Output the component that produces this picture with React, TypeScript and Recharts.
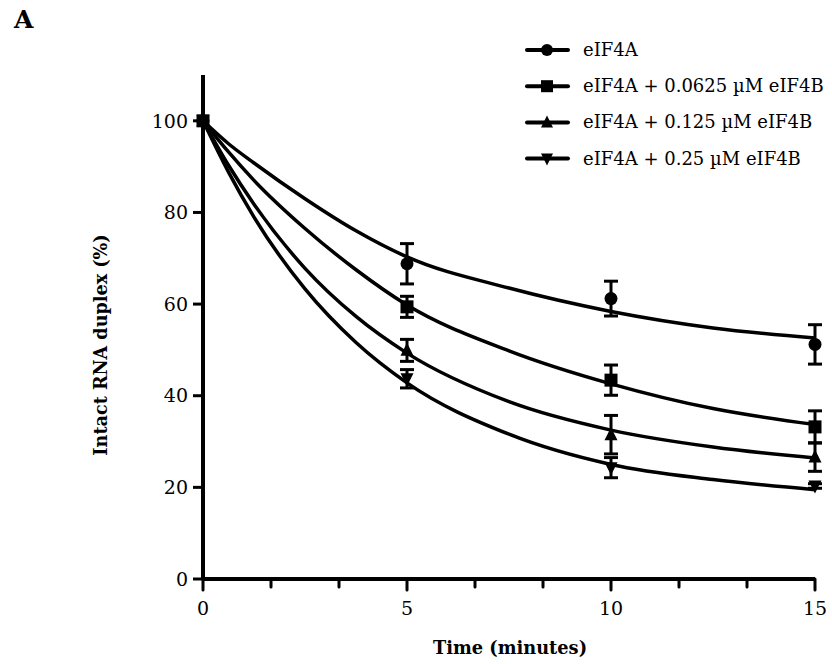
import React from "react";
import { ComposedChart, Line, Scatter, XAxis, YAxis, ErrorBar, Legend } from "recharts";

const seriesNames = [
  "eIF4A",
  "eIF4A + 0.0625 \u00b5M eIF4B",
  "eIF4A + 0.125 \u00b5M eIF4B",
  "eIF4A + 0.25 \u00b5M eIF4B",
];
const seriesShapes = ["circle", "square", "triangle", "invtriangle"];

// measured points (time, mean, error)
const pointTimes = [0, 5, 10, 15];
const ptsA = [100, 68.8, 61.2, 51.2];
const errA = [0, 4.4, 3.8, 4.3];
const ptsB = [100, 59.4, 43.4, 33.2];
const errB = [0, 2.3, 3.3, 3.5];
const ptsC = [100, 49.9, 31.5, 26.6];
const errC = [0, 2.4, 4.2, 3.1];
const ptsD = [100, 43.7, 24.3, 20.3];
const errD = [0, 2.0, 2.2, 0.5];

// fitted curves
const curveTimes = [0, 0.625, 1.25, 2.5, 3.75, 5, 7.5, 10, 12.5, 15];
const curveA = [100, 95.0, 90.8, 83.0, 76.0, 70.3, 63.5, 58.4, 54.8, 52.6];
const curveB = [100, 93.2, 87.0, 76.5, 67.5, 59.8, 49.8, 42.6, 37.2, 33.7];
const curveC = [100, 90.3, 81.8, 67.8, 57.3, 49.3, 38.7, 32.5, 28.8, 26.4];
const curveD = [100, 88.8, 79.0, 63.3, 51.6, 42.8, 31.6, 25.0, 21.7, 19.5];

const xTicks = [0, 5 / 3, 10 / 3, 5, 20 / 3, 25 / 3, 10, 35 / 3, 40 / 3, 15];
const xMajor = [0, 5, 10, 15];
const yTicks = [0, 20, 40, 60, 80, 100];

const FONT = "'DejaVu Serif', serif";

const mkPts = (vals: number[], errs: number[]) =>
  pointTimes.map((t, i) => ({ t, y: vals[i], err: errs[i] }));
const mkCurve = (vals: number[]) => curveTimes.map((t, i) => ({ t, v: vals[i] }));

const pointSets = [mkPts(ptsA, errA), mkPts(ptsB, errB), mkPts(ptsC, errC), mkPts(ptsD, errD)];
const curveSets = [mkCurve(curveA), mkCurve(curveB), mkCurve(curveC), mkCurve(curveD)];

function Marker({ shape, cx, cy, r = 6.5 }: { shape: string; cx: number; cy: number; r?: number }) {
  if (shape === "circle") return <circle cx={cx} cy={cy} r={r} fill="#000" />;
  if (shape === "square")
    return <rect x={cx - r} y={cy - r} width={2 * r} height={2 * r} fill="#000" />;
  if (shape === "triangle")
    return (
      <polygon
        points={`${cx},${cy - r - 1} ${cx - r},${cy + r - 1} ${cx + r},${cy + r - 1}`}
        fill="#000"
      />
    );
  return (
    <polygon
      points={`${cx},${cy + r + 1} ${cx - r},${cy - r + 1} ${cx + r},${cy - r + 1}`}
      fill="#000"
    />
  );
}

const XTick = (props: any) => {
  const { x, y, payload } = props;
  const v = payload.value;
  const major = xMajor.some((m) => Math.abs(m - v) < 1e-6);
  return (
    <g>
      <line x1={x} x2={x} y1={y} y2={y + (major ? 11 : 8)} stroke="#000" strokeWidth={3} strokeLinecap="round" />
      {major && (
        <text x={x} y={y + 36} textAnchor="middle" fontFamily={FONT} fontSize={19} fill="#000">
          {Math.round(v)}
        </text>
      )}
    </g>
  );
};

const LegendContent = () => (
  <svg width={317} height={150}>
    {seriesNames.map((name, i) => {
      const cy = 20 + i * 36.2;
      return (
        <g key={name}>
          <line x1={14} x2={55} y1={cy} y2={cy} stroke="#000" strokeWidth={4} strokeLinecap="round" />
          <Marker shape={seriesShapes[i]} cx={34} cy={cy} r={6} />
          <text x={70} y={cy + 6} fontFamily={FONT} fontSize={18} fill="#000">
            {name}
          </text>
        </g>
      );
    })}
  </svg>
);

export default function App() {
  return (
    <div style={{ position: "absolute", left: 0, top: 0, width: 832, height: 664, background: "#fff" }}>
      <svg style={{ position: "absolute", left: 0, top: 0 }} width={832} height={664}>
        <text x={14} y={28} fontFamily={FONT} fontWeight="bold" fontSize={25} fill="#000">
          A
        </text>
        <text x={510} y={654} textAnchor="middle" fontFamily={FONT} fontWeight="bold" fontSize={17.8} fill="#000">
          Time (minutes)
        </text>
        <text
          x={0}
          y={0}
          transform="translate(107,345) rotate(-90)"
          textAnchor="middle"
          fontFamily={FONT}
          fontWeight="bold"
          fontSize={17.6}
          fill="#000"
        >
          Intact RNA duplex (%)
        </text>
      </svg>
      <ComposedChart
        width={832}
        height={664}
        margin={{ top: 75, right: 17, bottom: 25, left: 143 }}
        style={{ position: "absolute", left: 0, top: 0 }}
      >
        <XAxis
          dataKey="t"
          type="number"
          domain={[0, 15]}
          ticks={xTicks}
          interval={0}
          tick={<XTick />}
          tickSize={0}
          tickMargin={0}
          tickLine={false}
          axisLine={{ stroke: "#000", strokeWidth: 4 }}
          height={60}
          allowDuplicatedCategory={false}
        />
        <YAxis
          type="number"
          domain={[0, 110]}
          ticks={yTicks}
          interval={0}
          width={60}
          tickSize={10}
          tickMargin={5}
          tick={{ fontFamily: FONT, fontSize: 19, fill: "#000" }}
          tickLine={{ stroke: "#000", strokeWidth: 3 }}
          axisLine={{ stroke: "#000", strokeWidth: 4 }}
        />
        <Legend
          layout="vertical"
          align="center"
          verticalAlign="middle"
          content={<LegendContent />}
          wrapperStyle={{ left: 513, top: 30, width: 317, height: 150 }}
        />
        {curveSets.map((d, i) => (
          <Line
            key={"c" + i}
            data={d}
            dataKey="v"
            type="monotone"
            stroke="#000"
            strokeWidth={3.5}
            dot={false}
            activeDot={false}
            legendType="none"
            isAnimationActive={false}
          />
        ))}
        {pointSets.map((d, i) => (
          <Scatter
            key={"p" + i}
            data={d}
            dataKey="y"
            isAnimationActive={false}
            legendType="none"
            shape={(p: any) => <Marker shape={seriesShapes[i]} cx={p.cx} cy={p.cy} />}
          >
            <ErrorBar dataKey="err" direction="y" width={7} stroke="#000" strokeWidth={3} isAnimationActive={false} />
          </Scatter>
        ))}
      </ComposedChart>
    </div>
  );
}
